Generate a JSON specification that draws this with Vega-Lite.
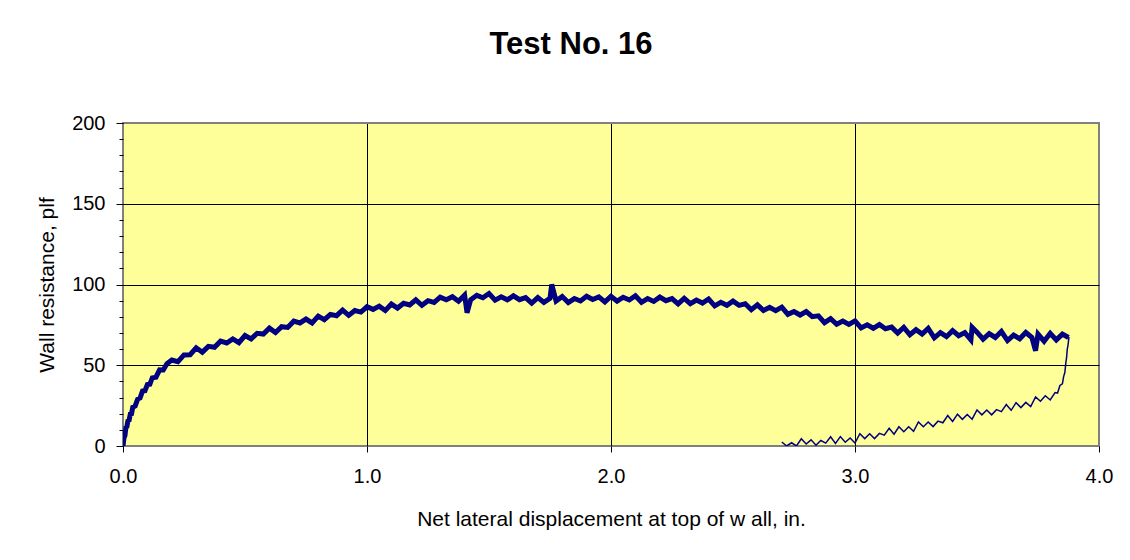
{
  "$schema": "https://vega.github.io/schema/vega-lite/v6.json",
  "width": 976,
  "height": 323,
  "autosize": {"type": "none"},
  "padding": {"left": 123, "top": 123, "right": 31, "bottom": 114},
  "background": "white",
  "config": {
    "font": "Liberation Sans",
    "view": {"fill": "#FFFF99", "stroke": "#808080", "strokeWidth": 2}
  },
  "title": {
    "text": "Test No. 16",
    "font": "Liberation Sans",
    "fontSize": 31,
    "fontWeight": "bold",
    "color": "black",
    "anchor": "middle",
    "frame": "group",
    "dx": -40,
    "baseline": "alphabetic",
    "offset": 28
  },
  "datasets": {
    "loading": [
      {"displacement": 0.0, "resistance": 0},
      {"displacement": 0.004, "resistance": 5},
      {"displacement": 0.008, "resistance": 6.5},
      {"displacement": 0.012, "resistance": 11.5},
      {"displacement": 0.016, "resistance": 12},
      {"displacement": 0.02, "resistance": 15.5},
      {"displacement": 0.025, "resistance": 16},
      {"displacement": 0.03, "resistance": 19.8},
      {"displacement": 0.035, "resistance": 20},
      {"displacement": 0.04, "resistance": 24},
      {"displacement": 0.05, "resistance": 24.8},
      {"displacement": 0.06, "resistance": 29},
      {"displacement": 0.07, "resistance": 29.8},
      {"displacement": 0.08, "resistance": 34},
      {"displacement": 0.09, "resistance": 34.2},
      {"displacement": 0.1, "resistance": 38},
      {"displacement": 0.11, "resistance": 38.2},
      {"displacement": 0.12, "resistance": 42.2},
      {"displacement": 0.135, "resistance": 42.6},
      {"displacement": 0.15, "resistance": 47.2},
      {"displacement": 0.165, "resistance": 47.1},
      {"displacement": 0.18, "resistance": 51},
      {"displacement": 0.2, "resistance": 53.2},
      {"displacement": 0.225, "resistance": 52.2},
      {"displacement": 0.25, "resistance": 56.4},
      {"displacement": 0.275, "resistance": 56.5},
      {"displacement": 0.3, "resistance": 60.8},
      {"displacement": 0.325, "resistance": 58.1},
      {"displacement": 0.35, "resistance": 61.7},
      {"displacement": 0.375, "resistance": 61.1},
      {"displacement": 0.4, "resistance": 64.9},
      {"displacement": 0.425, "resistance": 63.8},
      {"displacement": 0.45, "resistance": 66.3},
      {"displacement": 0.475, "resistance": 64.0},
      {"displacement": 0.5, "resistance": 68.4},
      {"displacement": 0.525, "resistance": 66.3},
      {"displacement": 0.55, "resistance": 69.8},
      {"displacement": 0.575, "resistance": 69.3},
      {"displacement": 0.6, "resistance": 73.0},
      {"displacement": 0.625, "resistance": 70.3},
      {"displacement": 0.65, "resistance": 73.9},
      {"displacement": 0.675, "resistance": 73.4},
      {"displacement": 0.7, "resistance": 77.3},
      {"displacement": 0.725, "resistance": 76.2},
      {"displacement": 0.75, "resistance": 78.6},
      {"displacement": 0.775, "resistance": 76.2},
      {"displacement": 0.8, "resistance": 80.4},
      {"displacement": 0.825, "resistance": 78.2},
      {"displacement": 0.85, "resistance": 81.5},
      {"displacement": 0.875, "resistance": 80.7},
      {"displacement": 0.9, "resistance": 84.1},
      {"displacement": 0.925, "resistance": 80.9},
      {"displacement": 0.95, "resistance": 83.9},
      {"displacement": 0.975, "resistance": 82.9},
      {"displacement": 1.0, "resistance": 86.2},
      {"displacement": 1.025, "resistance": 84.6},
      {"displacement": 1.05, "resistance": 86.6},
      {"displacement": 1.075, "resistance": 83.9},
      {"displacement": 1.1, "resistance": 87.9},
      {"displacement": 1.125, "resistance": 85.4},
      {"displacement": 1.15, "resistance": 88.4},
      {"displacement": 1.175, "resistance": 87.3},
      {"displacement": 1.2, "resistance": 90.5},
      {"displacement": 1.225, "resistance": 87.1},
      {"displacement": 1.25, "resistance": 90.0},
      {"displacement": 1.275, "resistance": 88.9},
      {"displacement": 1.3, "resistance": 92.2},
      {"displacement": 1.325, "resistance": 90.5},
      {"displacement": 1.35, "resistance": 92.4},
      {"displacement": 1.375, "resistance": 89.6},
      {"displacement": 1.4, "resistance": 93.4},
      {"displacement": 1.41, "resistance": 82.5},
      {"displacement": 1.425, "resistance": 90.6},
      {"displacement": 1.45, "resistance": 93.3},
      {"displacement": 1.475, "resistance": 91.8},
      {"displacement": 1.5, "resistance": 94.4},
      {"displacement": 1.525, "resistance": 90.3},
      {"displacement": 1.55, "resistance": 92.4},
      {"displacement": 1.575, "resistance": 90.5},
      {"displacement": 1.6, "resistance": 93.0},
      {"displacement": 1.625, "resistance": 90.6},
      {"displacement": 1.65, "resistance": 91.9},
      {"displacement": 1.675, "resistance": 88.5},
      {"displacement": 1.7, "resistance": 91.9},
      {"displacement": 1.725, "resistance": 88.9},
      {"displacement": 1.75, "resistance": 91.4},
      {"displacement": 1.757, "resistance": 100},
      {"displacement": 1.775, "resistance": 89.8},
      {"displacement": 1.8, "resistance": 92.6},
      {"displacement": 1.825, "resistance": 88.8},
      {"displacement": 1.85, "resistance": 91.3},
      {"displacement": 1.875, "resistance": 89.8},
      {"displacement": 1.9, "resistance": 92.7},
      {"displacement": 1.925, "resistance": 90.7},
      {"displacement": 1.95, "resistance": 92.3},
      {"displacement": 1.975, "resistance": 89.2},
      {"displacement": 2.0, "resistance": 92.7},
      {"displacement": 2.025, "resistance": 89.7},
      {"displacement": 2.05, "resistance": 92.1},
      {"displacement": 2.075, "resistance": 90.4},
      {"displacement": 2.1, "resistance": 93.0},
      {"displacement": 2.125, "resistance": 89.0},
      {"displacement": 2.15, "resistance": 91.3},
      {"displacement": 2.175, "resistance": 89.5},
      {"displacement": 2.2, "resistance": 92.2},
      {"displacement": 2.225, "resistance": 90.0},
      {"displacement": 2.25, "resistance": 91.3},
      {"displacement": 2.275, "resistance": 88.0},
      {"displacement": 2.3, "resistance": 91.4},
      {"displacement": 2.325, "resistance": 88.1},
      {"displacement": 2.35, "resistance": 90.4},
      {"displacement": 2.375, "resistance": 88.5},
      {"displacement": 2.4, "resistance": 91.0},
      {"displacement": 2.425, "resistance": 86.8},
      {"displacement": 2.45, "resistance": 89.0},
      {"displacement": 2.475, "resistance": 87.1},
      {"displacement": 2.5, "resistance": 89.7},
      {"displacement": 2.525, "resistance": 87.1},
      {"displacement": 2.55, "resistance": 88.1},
      {"displacement": 2.575, "resistance": 84.4},
      {"displacement": 2.6, "resistance": 87.4},
      {"displacement": 2.625, "resistance": 83.9},
      {"displacement": 2.65, "resistance": 85.9},
      {"displacement": 2.675, "resistance": 83.8},
      {"displacement": 2.7, "resistance": 86.0},
      {"displacement": 2.725, "resistance": 81.5},
      {"displacement": 2.75, "resistance": 83.3},
      {"displacement": 2.775, "resistance": 81.1},
      {"displacement": 2.8, "resistance": 83.2},
      {"displacement": 2.825, "resistance": 80.1},
      {"displacement": 2.85, "resistance": 80.6},
      {"displacement": 2.875, "resistance": 76.4},
      {"displacement": 2.9, "resistance": 78.9},
      {"displacement": 2.925, "resistance": 75.4},
      {"displacement": 2.95, "resistance": 77.4},
      {"displacement": 2.975, "resistance": 75.3},
      {"displacement": 3.0, "resistance": 77.5},
      {"displacement": 3.025, "resistance": 73.1},
      {"displacement": 3.05, "resistance": 75.0},
      {"displacement": 3.075, "resistance": 72.9},
      {"displacement": 3.1, "resistance": 75.2},
      {"displacement": 3.125, "resistance": 72.6},
      {"displacement": 3.15, "resistance": 73.6},
      {"displacement": 3.175, "resistance": 69.9},
      {"displacement": 3.2, "resistance": 73.5},
      {"displacement": 3.225, "resistance": 68.9},
      {"displacement": 3.25, "resistance": 72.0},
      {"displacement": 3.275, "resistance": 69.3},
      {"displacement": 3.3, "resistance": 72.8},
      {"displacement": 3.325, "resistance": 67.0},
      {"displacement": 3.35, "resistance": 70.2},
      {"displacement": 3.375, "resistance": 67.7},
      {"displacement": 3.4, "resistance": 71.4},
      {"displacement": 3.425, "resistance": 68.3},
      {"displacement": 3.45, "resistance": 70.2},
      {"displacement": 3.475, "resistance": 65.7},
      {"displacement": 3.48, "resistance": 73.5},
      {"displacement": 3.5, "resistance": 70.5},
      {"displacement": 3.525, "resistance": 66.2},
      {"displacement": 3.55, "resistance": 69.6},
      {"displacement": 3.575, "resistance": 67.2},
      {"displacement": 3.6, "resistance": 70.9},
      {"displacement": 3.625, "resistance": 65.3},
      {"displacement": 3.65, "resistance": 68.7},
      {"displacement": 3.675, "resistance": 66.4},
      {"displacement": 3.7, "resistance": 70.3},
      {"displacement": 3.725, "resistance": 67.2},
      {"displacement": 3.74, "resistance": 59},
      {"displacement": 3.75, "resistance": 69.3},
      {"displacement": 3.775, "resistance": 64.9},
      {"displacement": 3.8, "resistance": 69.8},
      {"displacement": 3.825, "resistance": 65.7},
      {"displacement": 3.85, "resistance": 69.3},
      {"displacement": 3.875, "resistance": 67.2}
    ],
    "unloading": [
      {"displacement": 2.70, "resistance": 2.5},
      {"displacement": 2.72, "resistance": 0},
      {"displacement": 2.74, "resistance": 2.0},
      {"displacement": 2.76, "resistance": 0},
      {"displacement": 2.78, "resistance": 4.5},
      {"displacement": 2.80, "resistance": 1.2},
      {"displacement": 2.82, "resistance": 3.8},
      {"displacement": 2.84, "resistance": 0.5},
      {"displacement": 2.86, "resistance": 3.4},
      {"displacement": 2.88, "resistance": 1.8},
      {"displacement": 2.90, "resistance": 5.7},
      {"displacement": 2.92, "resistance": 1.6},
      {"displacement": 2.94, "resistance": 5.8},
      {"displacement": 2.96, "resistance": 2.3},
      {"displacement": 2.98, "resistance": 5.0},
      {"displacement": 3.00, "resistance": 1.8},
      {"displacement": 3.02, "resistance": 7.6},
      {"displacement": 3.04, "resistance": 4.6},
      {"displacement": 3.06, "resistance": 7.6},
      {"displacement": 3.08, "resistance": 4.6},
      {"displacement": 3.10, "resistance": 7.8},
      {"displacement": 3.12, "resistance": 6.7},
      {"displacement": 3.14, "resistance": 11.0},
      {"displacement": 3.16, "resistance": 7.3},
      {"displacement": 3.18, "resistance": 11.9},
      {"displacement": 3.20, "resistance": 8.8},
      {"displacement": 3.22, "resistance": 11.9},
      {"displacement": 3.24, "resistance": 9.1},
      {"displacement": 3.26, "resistance": 14.9},
      {"displacement": 3.28, "resistance": 11.9},
      {"displacement": 3.30, "resistance": 14.9},
      {"displacement": 3.32, "resistance": 12.0},
      {"displacement": 3.34, "resistance": 15.4},
      {"displacement": 3.36, "resistance": 14.4},
      {"displacement": 3.38, "resistance": 18.9},
      {"displacement": 3.40, "resistance": 15.2},
      {"displacement": 3.42, "resistance": 19.7},
      {"displacement": 3.44, "resistance": 16.5},
      {"displacement": 3.46, "resistance": 19.5},
      {"displacement": 3.48, "resistance": 16.6},
      {"displacement": 3.50, "resistance": 22.3},
      {"displacement": 3.52, "resistance": 19.3},
      {"displacement": 3.54, "resistance": 22.3},
      {"displacement": 3.56, "resistance": 19.3},
      {"displacement": 3.58, "resistance": 22.5},
      {"displacement": 3.60, "resistance": 21.3},
      {"displacement": 3.62, "resistance": 25.7},
      {"displacement": 3.64, "resistance": 22.1},
      {"displacement": 3.66, "resistance": 26.8},
      {"displacement": 3.68, "resistance": 23.8},
      {"displacement": 3.70, "resistance": 27.0},
      {"displacement": 3.72, "resistance": 24.4},
      {"displacement": 3.74, "resistance": 30.4},
      {"displacement": 3.76, "resistance": 27.7},
      {"displacement": 3.78, "resistance": 31.1},
      {"displacement": 3.80, "resistance": 28.5},
      {"displacement": 3.82, "resistance": 33.1},
      {"displacement": 3.83, "resistance": 32.8},
      {"displacement": 3.84, "resistance": 37.5},
      {"displacement": 3.85, "resistance": 38.5},
      {"displacement": 3.855, "resistance": 43},
      {"displacement": 3.86, "resistance": 45.5},
      {"displacement": 3.864, "resistance": 51.5},
      {"displacement": 3.867, "resistance": 54.5},
      {"displacement": 3.87, "resistance": 60},
      {"displacement": 3.873, "resistance": 62.5},
      {"displacement": 3.877, "resistance": 67.5}
    ]
  },
  "layer": [
    {
      "data": {"name": "loading"},
      "mark": {"type": "line", "color": "#000080", "strokeWidth": 5, "strokeJoin": "miter", "clip": true},
      "encoding": {
        "x": {
          "field": "displacement",
          "type": "quantitative",
          "scale": {"domain": [0, 4], "nice": false, "zero": false},
          "axis": {
            "values": [0, 1, 2, 3, 4],
            "format": ".1f",
            "title": "Net lateral displacement at top of w all, in.",
            "titleFont": "Liberation Sans",
            "titleFontSize": 21,
            "titleFontWeight": "normal",
            "titleColor": "black",
            "titlePadding": 22,
            "labelFont": "Liberation Sans",
            "labelFontSize": 20,
            "labelColor": "black",
            "labelPadding": 14,
            "labelFlush": false,
            "tickSize": 6,
            "tickColor": "black",
            "domain": false,
            "grid": true,
            "gridColor": {"condition": {"test": "datum.value === 0 || datum.value === 4", "value": "#808080"}, "value": "black"},
            "gridWidth": 1,
            "gridOpacity": 1
          }
        },
        "y": {
          "field": "resistance",
          "type": "quantitative",
          "scale": {"domain": [0, 200], "nice": false, "zero": false},
          "axis": {
            "values": [0, 50, 100, 150, 200],
            "title": "Wall resistance, plf",
            "titleFont": "Liberation Sans",
            "titleFontSize": 21,
            "titleFontWeight": "normal",
            "titleColor": "black",
            "titlePadding": 14,
            "labelFont": "Liberation Sans",
            "labelFontSize": 20,
            "labelColor": "black",
            "labelPadding": 11,
            "labelFlush": false,
            "tickSize": 7,
            "tickColor": "black",
            "domain": false,
            "grid": true,
            "gridColor": {"condition": {"test": "datum.value === 0 || datum.value === 200", "value": "#808080"}, "value": "black"},
            "gridWidth": 1,
            "gridOpacity": 1
          }
        }
      }
    },
    {
      "data": {"name": "unloading"},
      "mark": {"type": "line", "color": "#000080", "strokeWidth": 1.5, "clip": true},
      "encoding": {
        "x": {
          "field": "displacement",
          "type": "quantitative"
        },
        "y": {
          "field": "resistance",
          "type": "quantitative",
          "axis": {
            "orient": "left",
            "values": [0, 10, 20, 30, 40, 50, 60, 70, 80, 90, 100, 110, 120, 130, 140, 150, 160, 170, 180, 190, 200],
            "labels": false,
            "title": null,
            "grid": false,
            "domain": false,
            "tickSize": 4,
            "tickColor": "black"
          }
        }
      }
    }
  ],
  "resolve": {"axis": {"y": "independent"}}
}
